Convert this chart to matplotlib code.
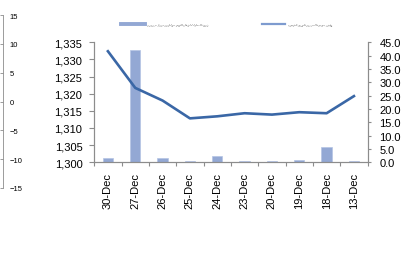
import matplotlib
matplotlib.use('Agg')
from matplotlib import pyplot as plt
from matplotlib.lines import Line2D
import numpy as np

days = ['30-Dec', '27-Dec', '26-Dec', '25-Dec', '24-Dec', '23-Dec', '20-Dec', '19-Dec', '18-Dec', '13-Dec']
index_vals = [1332.4, 1321.7, 1318.0, 1312.8, 1313.4, 1314.3, 1313.9, 1314.6, 1314.3, 1319.3]
turnover = [1.5, 42.1, 1.5, 0.5, 2.5, 0.4, 0.4, 0.9, 5.7, 0.4]

left_ticks = [1300, 1305, 1310, 1315, 1320, 1325, 1330, 1335]
right_ticks = [0, 5, 10, 15, 20, 25, 30, 35, 40, 45]
spare_ticks = [-15, -10, -5, 0, 5, 10, 15]

bar_label = 'قيمة التداول للقطاع الأمس بملايين دينار بحريني'
line_label = 'مؤشر بورصة البحرين(المحور الأيسر)'

bar_color = '#93A8D4'
line_color = '#3A67A6'
axis_color = '#8C8C8C'

plt.rcParams['font.family'] = ['Liberation Sans', 'DejaVu Sans']

fig = plt.figure(figsize=(4.08, 2.55), dpi=100)
ax = fig.add_axes([0.231, 0.360, 0.670, 0.470])
ax2 = ax.twinx()

x = np.arange(len(days))
ax2.bar(x, turnover, width=0.38, color=bar_color, edgecolor='#B4C4E4', linewidth=0.5, zorder=1)
ax.plot(x, index_vals, color=line_color, linewidth=1.9, zorder=3)
ax.set_zorder(ax2.get_zorder() + 1)
ax.patch.set_visible(False)

ax.set_xlim(-0.5, len(days) - 0.5)
ax.set_ylim(1300, 1335)
ax.set_yticks(left_ticks)
ax.set_yticklabels(['{:,}'.format(v) for v in left_ticks])
ax2.set_ylim(0, 45)
ax2.set_yticks(right_ticks)
ax2.set_yticklabels(['{:.1f}'.format(v) for v in right_ticks])

ax.set_xticks(x)
ax.set_xticklabels(days, rotation=90)
ax.set_xticks(np.arange(-0.5, len(days)), minor=True)
ax.tick_params(axis='x', which='major', length=0, pad=7, labelsize=8)
ax.tick_params(axis='x', which='minor', length=3, color=axis_color, width=0.8)
ax.tick_params(axis='y', length=3.5, color=axis_color, width=0.8, pad=5, labelsize=8)
ax2.tick_params(axis='y', length=2.5, color=axis_color, width=0.8, pad=6, labelsize=8)

for a in (ax, ax2):
    a.spines['top'].set_visible(False)
    for s in ('left', 'right', 'bottom'):
        a.spines[s].set_color(axis_color)
        a.spines[s].set_linewidth(0.8)

# leftover axis at the far left edge
ax3 = fig.add_axes([0.0, 0.259, 0.0066, 0.678])
ax3.patch.set_visible(False)
ax3.set_xticks([])
ax3.set_ylim(-15, 15)
ax3.set_yticks(spare_ticks)
ax3.yaxis.tick_right()
ax3.tick_params(axis='y', direction='in', length=2, color=axis_color, width=0.6, pad=5, labelsize=5.5)
for s in ('left', 'top', 'bottom'):
    ax3.spines[s].set_visible(False)
ax3.spines['right'].set_color(axis_color)
ax3.spines['right'].set_linewidth(0.6)

# two separate legend entries at the top
fs = 1.6
leg1 = fig.legend([Line2D([0], [0], color=bar_color, linewidth=2.8)], [bar_label[::-1]],
                  loc='center left', bbox_to_anchor=(121 / 408, 1 - 25 / 255), frameon=False,
                  fontsize=fs, handlelength=17.3 / fs, handletextpad=1.4 / fs,
                  borderpad=0, borderaxespad=0)
leg2 = fig.legend([Line2D([0], [0], color='#7E9BCF', linewidth=1.6)], [line_label[::-1]],
                  loc='center left', bbox_to_anchor=(262 / 408, 1 - 25 / 255), frameon=False,
                  fontsize=fs, handlelength=16.5 / fs, handletextpad=2.2 / fs,
                  borderpad=0, borderaxespad=0)

fig.savefig('out.png', dpi=100)
